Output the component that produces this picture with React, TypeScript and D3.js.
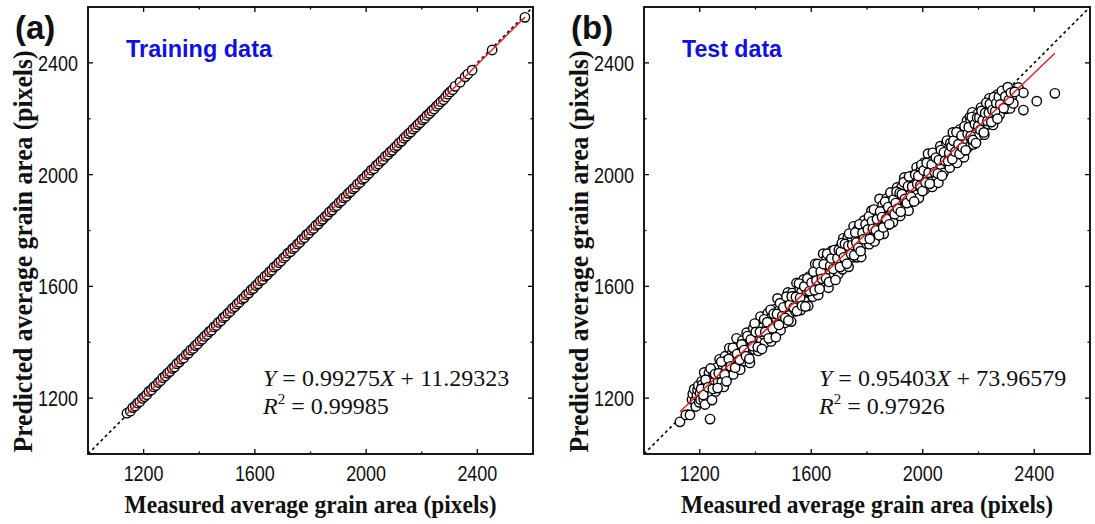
import React from 'react';
import * as d3 from 'd3';

// ---------- DATA ----------
const axisDomain: [number, number] = [1000, 2600];
const majorTicks = [1200, 1600, 2000, 2400];
const minorTicks = [1400, 1800, 2200];
const tickLabels = ['1200', '1600', '2000', '2400'];

const trainSlope = 0.99275;
const trainIntercept = 11.29323;
const trainR2 = '0.99985';
const testSlope = 0.95403;
const testIntercept = 73.96579;
const testR2 = '0.97926';

// Training data: [measured, predicted]
const trainPoints: [number, number][] = [
  [1140, 1146], [1152, 1153], [1161, 1166], [1170, 1172], [1178, 1182], [1186, 1187], [1195, 1199], [1203, 1205],
  [1211, 1212], [1219, 1224], [1228, 1229], [1236, 1240], [1244, 1245], [1253, 1256], [1261, 1262], [1269, 1273],
  [1278, 1279], [1286, 1289], [1294, 1295], [1303, 1306], [1311, 1311], [1319, 1323], [1328, 1329], [1336, 1339],
  [1344, 1344], [1353, 1356], [1361, 1361], [1369, 1372], [1378, 1378], [1386, 1388], [1394, 1394], [1403, 1405],
  [1411, 1411], [1419, 1421], [1428, 1428], [1436, 1438], [1444, 1443], [1453, 1455], [1461, 1460], [1469, 1471],
  [1478, 1477], [1486, 1488], [1494, 1493], [1503, 1504], [1511, 1510], [1519, 1521], [1528, 1527], [1536, 1537],
  [1544, 1543], [1553, 1554], [1561, 1559], [1569, 1570], [1578, 1576], [1586, 1587], [1594, 1592], [1603, 1603],
  [1611, 1609], [1619, 1620], [1628, 1625], [1636, 1636], [1644, 1641], [1653, 1652], [1661, 1658], [1669, 1669],
  [1678, 1675], [1686, 1685], [1694, 1691], [1703, 1702], [1711, 1708], [1719, 1719], [1728, 1724], [1736, 1735],
  [1744, 1740], [1753, 1751], [1761, 1757], [1769, 1768], [1778, 1774], [1786, 1785], [1794, 1790], [1803, 1801],
  [1811, 1807], [1819, 1818], [1828, 1823], [1836, 1834], [1844, 1840], [1853, 1850], [1861, 1856], [1869, 1867],
  [1878, 1873], [1886, 1884], [1894, 1889], [1903, 1900], [1911, 1906], [1919, 1917], [1928, 1922], [1936, 1933],
  [1944, 1939], [1953, 1949], [1961, 1955], [1969, 1966], [1978, 1972], [1986, 1983], [1994, 1988], [2003, 1999],
  [2011, 2005], [2019, 2016], [2028, 2021], [2036, 2032], [2044, 2038], [2053, 2048], [2061, 2054], [2069, 2065],
  [2078, 2071], [2086, 2081], [2094, 2087], [2103, 2097], [2111, 2104], [2119, 2114], [2128, 2120], [2136, 2130],
  [2144, 2137], [2153, 2147], [2161, 2153], [2169, 2163], [2178, 2170], [2186, 2179], [2194, 2186], [2203, 2196],
  [2211, 2202], [2219, 2212], [2228, 2219], [2236, 2228], [2244, 2235], [2253, 2245], [2261, 2252], [2269, 2261],
  [2278, 2268], [2286, 2278], [2294, 2288], [2302, 2296], [2311, 2304], [2320, 2316], [2338, 2331], [2356, 2350],
  [2366, 2360], [2381, 2374], [2453, 2446], [2571, 2563],
];

// Test data: [measured, predicted]
const testPoints: [number, number][] = [
  [1129, 1115], [1150, 1140], [1165, 1140], [1172, 1195], [1175, 1215], [1180, 1232], [1183, 1190], [1186, 1170], [1190, 1210],
  [1192, 1230], [1195, 1245], [1198, 1185],
  [1201, 1218], [1203, 1194], [1207, 1260], [1209, 1248], [1211, 1225], [1214, 1196], [1216, 1292], [1219, 1177], [1223, 1253],
  [1226, 1240], [1228, 1228], [1232, 1260], [1233, 1291], [1237, 1125], [1241, 1216], [1244, 1193], [1244, 1266], [1249, 1292],
  [1250, 1266], [1253, 1258], [1257, 1224], [1262, 1310], [1266, 1258], [1271, 1339], [1273, 1240], [1274, 1290], [1279, 1257],
  [1283, 1317], [1286, 1240], [1291, 1350], [1295, 1303], [1298, 1336],
  [1302, 1280], [1306, 1379], [1308, 1328], [1313, 1305], [1317, 1363], [1320, 1285], [1324, 1351], [1329, 1335], [1332, 1414],
  [1336, 1320], [1341, 1378], [1345, 1302], [1348, 1362], [1353, 1406], [1356, 1352], [1361, 1332], [1364, 1393], [1368, 1434],
  [1373, 1362], [1376, 1395], [1380, 1326], [1385, 1425], [1388, 1395], [1392, 1450], [1396, 1374], [1399, 1421],
  [1403, 1394], [1406, 1453], [1410, 1369], [1413, 1427], [1418, 1492], [1421, 1405], [1425, 1454], [1428, 1429], [1433, 1397],
  [1437, 1481], [1440, 1448], [1444, 1504], [1449, 1427], [1452, 1474], [1456, 1403], [1459, 1494], [1463, 1458], [1467, 1518],
  [1471, 1442], [1474, 1486], [1479, 1557], [1482, 1467], [1486, 1515], [1490, 1443], [1494, 1509], [1498, 1539],
  [1502, 1497], [1505, 1469], [1509, 1543], [1513, 1519], [1516, 1578], [1520, 1496], [1525, 1545], [1528, 1474], [1532, 1576],
  [1535, 1534], [1540, 1565], [1543, 1511], [1547, 1612], [1551, 1561], [1554, 1536], [1558, 1594], [1562, 1515], [1565, 1579],
  [1570, 1558], [1573, 1625], [1577, 1546], [1581, 1609], [1584, 1583], [1589, 1530], [1592, 1635], [1596, 1601], [1599, 1576],
  [1603, 1633], [1606, 1563], [1610, 1619], [1614, 1680], [1617, 1598], [1621, 1642], [1625, 1569], [1628, 1627], [1632, 1669],
  [1636, 1607], [1640, 1653], [1643, 1717], [1648, 1606], [1651, 1655], [1655, 1701], [1659, 1645], [1662, 1595], [1666, 1689],
  [1670, 1645], [1674, 1727], [1677, 1678], [1681, 1642], [1685, 1714], [1689, 1678], [1692, 1707], [1697, 1644],
  [1701, 1737], [1704, 1684], [1708, 1712], [1712, 1661], [1715, 1772], [1719, 1734], [1723, 1686], [1726, 1720], [1731, 1775],
  [1734, 1670], [1738, 1744], [1741, 1725], [1745, 1773], [1749, 1704], [1752, 1815], [1756, 1745], [1760, 1777], [1764, 1704],
  [1767, 1804], [1771, 1744], [1775, 1775], [1779, 1705], [1782, 1802], [1786, 1772], [1790, 1836], [1793, 1753], [1798, 1806],
  [1801, 1770], [1805, 1832], [1808, 1751], [1812, 1807], [1816, 1871], [1819, 1796], [1823, 1836], [1827, 1761], [1830, 1860],
  [1834, 1822], [1838, 1854], [1841, 1795], [1845, 1913], [1849, 1849], [1852, 1815], [1856, 1890], [1860, 1788], [1863, 1869],
  [1867, 1848], [1871, 1915], [1874, 1821], [1878, 1895], [1882, 1851], [1886, 1879], [1889, 1918], [1893, 1830], [1897, 1898],
  [1901, 1921], [1904, 1860], [1908, 1954], [1912, 1890], [1915, 1921], [1919, 1852], [1923, 1953], [1927, 1914], [1930, 1878],
  [1934, 1990], [1938, 1933], [1941, 1904], [1945, 1967], [1949, 1871], [1953, 1960], [1956, 1929], [1960, 1995], [1964, 1903],
  [1967, 1958], [1971, 1983], [1975, 1933], [1978, 2026], [1982, 1960], [1986, 1916], [1989, 1990], [1993, 2015], [1997, 1949],
  [2001, 1993], [2005, 2043], [2008, 1948], [2012, 2016], [2016, 1986], [2019, 2075], [2023, 1976], [2027, 2012], [2030, 2046],
  [2034, 1956], [2038, 2034], [2041, 2015], [2045, 2073], [2049, 1994], [2052, 2057], [2056, 1971], [2060, 2047], [2063, 2102],
  [2067, 2028], [2071, 2081], [2074, 2006], [2078, 2071], [2082, 2059], [2085, 2113], [2089, 2041], [2093, 2091], [2097, 2025],
  [2101, 2120], [2104, 2071], [2108, 2151], [2112, 2051], [2115, 2098], [2119, 2124], [2123, 2042], [2126, 2121], [2130, 2091],
  [2134, 2162], [2137, 2083], [2141, 2117], [2145, 2159], [2148, 2062], [2152, 2149], [2156, 2123], [2159, 2194], [2163, 2098],
  [2167, 2154], [2169, 2207], [2171, 2189], [2174, 2127], [2178, 2223], [2182, 2108], [2185, 2166], [2189, 2192], [2193, 2152], [2197, 2218],
  [2201, 2140], [2205, 2194], [2209, 2240], [2213, 2175], [2217, 2217], [2221, 2143], [2226, 2200], [2230, 2240], [2234, 2180],
  [2235, 2225], [2239, 2273], [2243, 2209], [2248, 2240], [2252, 2178], [2257, 2262], [2259, 2243], [2262, 2215], [2265, 2219],
  [2266, 2285], [2271, 2246], [2276, 2215], [2281, 2276], [2287, 2248], [2293, 2293], [2295, 2243], [2298, 2235],
  [2301, 2297], [2313, 2237], [2319, 2279], [2325, 2255], [2343, 2312], [2361, 2293], [2361, 2231], [2409, 2263], [2474, 2291],
  // second pass through the cloud
  [1205, 1233], [1213, 1211], [1221, 1266], [1230, 1239], [1239, 1306], [1247, 1233], [1255, 1286], [1264, 1236], [1268, 1289],
  [1277, 1330], [1289, 1285], [1296, 1260],
  [1304, 1340], [1311, 1314], [1319, 1380], [1327, 1309], [1334, 1358], [1343, 1337], [1350, 1392], [1359, 1372], [1366, 1350],
  [1371, 1422], [1378, 1341], [1383, 1410], [1390, 1386], [1397, 1467],
  [1401, 1437], [1408, 1383], [1416, 1437], [1423, 1376], [1431, 1482], [1435, 1437], [1442, 1472], [1447, 1414], [1454, 1516],
  [1461, 1450], [1465, 1502], [1473, 1418], [1477, 1501], [1484, 1462], [1488, 1540], [1496, 1494],
  [1500, 1525], [1507, 1487], [1511, 1563], [1518, 1478], [1523, 1534], [1530, 1564], [1537, 1524], [1545, 1562], [1549, 1512],
  [1556, 1610], [1560, 1558], [1567, 1531], [1575, 1600], [1579, 1528], [1586, 1628], [1594, 1583],
  [1601, 1613], [1608, 1652], [1612, 1586], [1619, 1621], [1623, 1680], [1630, 1591], [1634, 1653], [1638, 1627], [1645, 1679],
  [1653, 1629], [1657, 1717], [1664, 1616], [1668, 1674], [1672, 1700], [1679, 1662], [1683, 1730], [1687, 1623], [1694, 1701],
  [1699, 1730],
  [1703, 1669], [1706, 1724], [1710, 1755], [1717, 1704], [1721, 1752], [1728, 1681], [1733, 1745], [1736, 1789], [1743, 1716],
  [1747, 1748], [1754, 1711], [1758, 1793], [1762, 1757], [1769, 1738], [1773, 1822], [1777, 1726], [1784, 1791], [1788, 1769],
  [1795, 1822],
  [1803, 1804], [1807, 1850], [1810, 1770], [1818, 1833], [1821, 1806], [1825, 1875], [1832, 1801], [1836, 1840], [1843, 1783],
  [1847, 1868], [1854, 1848], [1858, 1811], [1865, 1903], [1869, 1841], [1876, 1884], [1880, 1822], [1884, 1936], [1891, 1870],
  [1895, 1911], [1899, 1858],
  [1903, 1898], [1906, 1939], [1910, 1878], [1917, 1934], [1921, 1867], [1925, 1930], [1932, 1973], [1936, 1913], [1943, 1898],
  [1947, 1958], [1951, 1993], [1958, 1921], [1962, 1957], [1969, 1904], [1973, 2000], [1980, 1967], [1984, 1995], [1991, 1961],
  [1995, 2035], [1999, 1941],
  [2003, 2015], [2010, 1972], [2014, 2042], [2021, 2007], [2025, 1967], [2032, 2036], [2036, 2078], [2043, 2009], [2047, 2061],
  [2054, 2004], [2058, 2052], [2065, 2088], [2069, 1996], [2076, 2080], [2080, 2050], [2087, 2122], [2091, 2049], [2095, 2077],
  [2099, 2113],
  [2103, 2100], [2106, 2055], [2110, 2121], [2117, 2082], [2121, 2152], [2128, 2109], [2132, 2074], [2139, 2140], [2143, 2097],
  [2150, 2173], [2154, 2087], [2161, 2146], [2165, 2170], [2172, 2138], [2176, 2206], [2180, 2124], [2187, 2181], [2191, 2113],
  [2195, 2204], [2199, 2174],
  [2203, 2204], [2207, 2160], [2211, 2228], [2215, 2194], [2219, 2151], [2224, 2221], [2228, 2257], [2232, 2192], [2237, 2221],
  [2241, 2253], [2246, 2188], [2250, 2231], [2255, 2277], [2260, 2227], [2264, 2256], [2268, 2200], [2273, 2278], [2278, 2251],
  [2284, 2300], [2290, 2238], [2296, 2280], [2305, 2313], [2309, 2267], [2316, 2293], [2330, 2296],
];

// ---------- LAYOUT ----------
const W = 1095;
const H = 524;
const TOP = 7;
const BOTTOM = 454;

const SANS = '"Liberation Sans", Arial, sans-serif';
const SERIF = '"Liberation Serif", "Times New Roman", serif';

type PanelProps = {
  left: number;
  right: number;
  points: [number, number][];
  slope: number;
  intercept: number;
  r2: string;
  label: string;
  name: string;
  nameWidth: number;
};

function Panel({ left, right, points, slope, intercept, r2, label, name, nameWidth }: PanelProps) {
  const x = d3.scaleLinear().domain(axisDomain).range([left, right]);
  const y = d3.scaleLinear().domain(axisDomain).range([BOTTOM, TOP]);
  const xs = points.map((p) => p[0]);
  const x0 = d3.min(xs) as number;
  const x1 = d3.max(xs) as number;
  const line = d3.line<[number, number]>().x((d) => x(d[0])).y((d) => y(d[1]));
  const fit: [number, number][] = [
    [x0, slope * x0 + intercept],
    [x1, slope * x1 + intercept],
  ];
  const diag: [number, number][] = [
    [axisDomain[0], axisDomain[0]],
    [axisDomain[1], axisDomain[1]],
  ];
  const majLen = 5;
  const minLen = 2.5;
  const cx = (left + right) / 2;
  const cy = (TOP + BOTTOM) / 2;
  const fmt = (v: number) => v.toFixed(5);
  const eqX = left + 175;
  return (
    <g>
      <clipPath id={`clip-${label}`}>
        <rect x={left} y={TOP} width={right - left} height={BOTTOM - TOP} />
      </clipPath>
      <g clipPath={`url(#clip-${label})`}>
        <path d={line(diag) || ''} stroke="#000" strokeWidth={1.6} strokeDasharray="3,3" fill="none" />
        {points.map((p, i) => (
          <circle key={i} cx={x(p[0])} cy={y(p[1])} r={4.7} fill="#fff" stroke="#000" strokeWidth={1.4} />
        ))}
        <path d={line(fit) || ''} stroke="#e8231f" strokeWidth={1.5} fill="none" />
      </g>
      {/* ticks on all four sides, pointing inward */}
      {majorTicks.map((t) => (
        <g key={'M' + t} stroke="#000" strokeWidth={1.3}>
          <line x1={x(t)} x2={x(t)} y1={BOTTOM} y2={BOTTOM - majLen} />
          <line x1={x(t)} x2={x(t)} y1={TOP} y2={TOP + majLen} />
          <line x1={left} x2={left + majLen} y1={y(t)} y2={y(t)} />
          <line x1={right} x2={right - majLen} y1={y(t)} y2={y(t)} />
        </g>
      ))}
      {minorTicks.map((t) => (
        <g key={'m' + t} stroke="#000" strokeWidth={1.3}>
          <line x1={x(t)} x2={x(t)} y1={BOTTOM} y2={BOTTOM - minLen} />
          <line x1={x(t)} x2={x(t)} y1={TOP} y2={TOP + minLen} />
          <line x1={left} x2={left + minLen} y1={y(t)} y2={y(t)} />
          <line x1={right} x2={right - minLen} y1={y(t)} y2={y(t)} />
        </g>
      ))}
      <rect x={left} y={TOP} width={right - left} height={BOTTOM - TOP} fill="none" stroke="#000" strokeWidth={1.8} />
      {/* tick labels */}
      {majorTicks.map((t, i) => (
        <text key={'xl' + t} x={x(t)} y={481} textAnchor="middle" fontFamily={SANS} fontSize={22}
          textLength={40} lengthAdjust="spacingAndGlyphs" fill="#111">{tickLabels[i]}</text>
      ))}
      {majorTicks.map((t, i) => (
        <text key={'yl' + t} x={left - 10} y={y(t) + 8} textAnchor="end" fontFamily={SANS} fontSize={22}
          textLength={40} lengthAdjust="spacingAndGlyphs" fill="#111">{tickLabels[i]}</text>
      ))}
      {/* axis titles */}
      <text x={cx} y={513} textAnchor="middle" fontFamily={SERIF} fontWeight="bold" fontSize={26}
        textLength={372} lengthAdjust="spacingAndGlyphs" fill="#111">Measured average grain area (pixels)</text>
      <text transform={`translate(${left - 56},${cy + 21}) rotate(-90)`} textAnchor="middle" fontFamily={SERIF}
        fontWeight="bold" fontSize={27} textLength={402} lengthAdjust="spacingAndGlyphs" fill="#111">
        Predicted average grain area (pixels)
      </text>
      {/* panel label and name */}
      <text x={left - 73} y={39} fontFamily={SANS} fontWeight="bold" fontSize={33} fill="#111">({label})</text>
      <text x={left + 38} y={57} fontFamily={SANS} fontWeight="bold" fontSize={23} fill="#1010e6"
        textLength={nameWidth} lengthAdjust="spacingAndGlyphs">{name}</text>
      {/* equation */}
      <text x={eqX} y={386} fontFamily={SERIF} fontSize={24} fill="#111">
        <tspan fontStyle="italic">Y</tspan>
        <tspan> = {fmt(slope)}</tspan>
        <tspan fontStyle="italic">X</tspan>
        <tspan> + {fmt(intercept)}</tspan>
      </text>
      <text x={eqX} y={414} fontFamily={SERIF} fontSize={24} fill="#111">
        <tspan fontStyle="italic">R</tspan>
        <tspan fontSize={15} dy={-10}>2</tspan>
        <tspan dy={10}> = {r2}</tspan>
      </text>
    </g>
  );
}

export default function App() {
  return (
    <svg width={W} height={H} viewBox={`0 0 ${W} ${H}`}
      style={{ position: 'absolute', left: 0, top: 0, background: '#fff' }}>
      <rect x={0} y={0} width={W} height={H} fill="#fff" />
      <Panel left={88} right={533} points={trainPoints} slope={trainSlope} intercept={trainIntercept}
        r2={trainR2} label="a" name="Training data" nameWidth={146} />
      <Panel left={644} right={1090} points={testPoints} slope={testSlope} intercept={testIntercept}
        r2={testR2} label="b" name="Test data" nameWidth={100} />
    </svg>
  );
}
